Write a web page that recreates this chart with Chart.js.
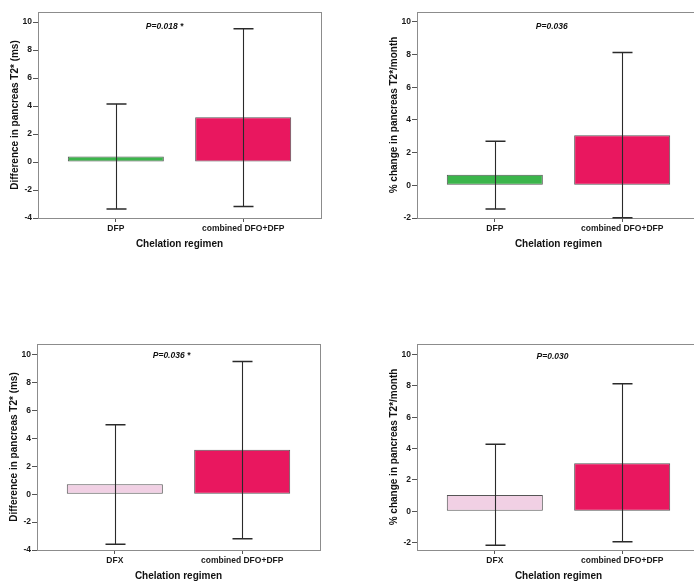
<!DOCTYPE html>
<html>
<head>
<meta charset="utf-8">
<script src="https://cdn.jsdelivr.net/npm/chart.js@4.4.1/dist/chart.umd.min.js"></script>
<style>
  html, body { margin: 0; padding: 0; background: #fff; }
  body { width: 694px; height: 583px; overflow: hidden; position: relative; }
  .panel { position: absolute; width: 347px; height: 260px; }
</style>
</head>
<body>
<div class="panel" style="left:0;top:0"><canvas id="c1" width="347" height="260"></canvas></div>
<div class="panel" style="left:379px;top:0"><canvas id="c2" width="347" height="260"></canvas></div>
<div class="panel" style="left:-1px;top:332px"><canvas id="c3" width="347" height="260"></canvas></div>
<div class="panel" style="left:379px;top:332px"><canvas id="c4" width="347" height="260"></canvas></div>
<script>
// --- data ---
const regimensTop = ['DFP', 'combined DFO+DFP'];
const regimensBottom = ['DFX', 'combined DFO+DFP'];
const xSlots = [1, 2];

// top-left: difference in pancreas T2* (ms), DFP vs combined
const diffDfp = [0.4, 3.2];
const diffDfpLow = [-3.35, -3.18];
const diffDfpHigh = [4.15, 9.53];

// top-right: % change per month, DFP vs combined
const pctDfp = [0.65, 3.07];
const pctDfpLow = [-1.45, -1.98];
const pctDfpHigh = [2.7, 8.13];

// bottom-left: difference (ms), DFX vs combined
const diffDfx = [0.72, 3.18];
const diffDfxLow = [-3.59, -3.2];
const diffDfxHigh = [4.98, 9.52];

// bottom-right: % change per month, DFX vs combined
const pctDfx = [1.04, 3.06];
const pctDfxLow = [-2.17, -1.94];
const pctDfxHigh = [4.28, 8.15];

const ticksDiff = [-4, -2, 0, 2, 4, 6, 8, 10];
const ticksPct = [-2, 0, 2, 4, 6, 8, 10];

const GREEN = '#3bb54b';
const PINK = '#e9175f';
const LIGHT_PINK = '#f1d0e4';
const FONT = '"Liberation Sans", Arial, sans-serif';

// plot frame (SPSS style box round the chart area)
const framePlugin = {
  id: 'frame',
  beforeDatasetsDraw(chart) {
    const { ctx, chartArea: a } = chart;
    ctx.save();
    ctx.strokeStyle = '#8c8c8c';
    ctx.lineWidth = 1;
    ctx.strokeRect(Math.round(a.left) + 0.5, Math.round(a.top) + 0.5,
      Math.round(a.right - a.left), Math.round(a.bottom - a.top));
    ctx.restore();
  }
};

// whiskers with caps, drawn from the y scale
const errorBarPlugin = {
  id: 'errorBars',
  afterDatasetsDraw(chart, args, opts) {
    const { ctx } = chart;
    const yScale = chart.scales.y;
    const meta = chart.getDatasetMeta(0);
    ctx.save();
    ctx.strokeStyle = '#2a2a2a';
    meta.data.forEach((bar, i) => {
      const x = Math.round(bar.x) + 0.5;
      const yLo = yScale.getPixelForValue(opts.lower[i]);
      const yHi = yScale.getPixelForValue(opts.upper[i]);
      ctx.lineWidth = 1.1;
      ctx.beginPath();
      ctx.moveTo(x, yHi);
      ctx.lineTo(x, yLo);
      ctx.stroke();
      ctx.lineWidth = 1.5;
      ctx.beginPath();
      ctx.moveTo(x - opts.cap, yHi);
      ctx.lineTo(x + opts.cap, yHi);
      ctx.moveTo(x - opts.cap, yLo);
      ctx.lineTo(x + opts.cap, yLo);
      ctx.stroke();
    });
    ctx.restore();
  }
};

// p-value note inside the plot
const pNotePlugin = {
  id: 'pNote',
  afterDraw(chart, args, opts) {
    const { ctx, chartArea: a } = chart;
    ctx.save();
    ctx.font = 'italic bold 8.5px ' + FONT;
    ctx.fillStyle = '#111';
    ctx.textAlign = 'left';
    ctx.textBaseline = 'middle';
    ctx.fillText(opts.text, a.left + opts.fx * (a.right - a.left), a.top + opts.dy);
    ctx.restore();
  }
};

function makeChart(id, cats, means, low, high, colors, yMin, yMax, yTicks, yTitle, note) {
  const ctx = document.getElementById(id).getContext('2d');
  return new Chart(ctx, {
    type: 'bar',
    data: {
      datasets: [{
        data: xSlots.map((x, i) => ({ x: x, y: means[i] })),
        backgroundColor: colors,
        borderColor: '#555',
        borderWidth: 1,
        borderSkipped: false,
        barPercentage: 0.754,
        categoryPercentage: 1
      }]
    },
    options: {
      responsive: false,
      animation: false,
      layout: { padding: { top: 12, right: 26, left: 0, bottom: 0 } },
      plugins: {
        legend: { display: false },
        tooltip: { enabled: false },
        errorBars: { lower: low, upper: high, cap: 10 },
        pNote: note
      },
      scales: {
        x: {
          type: 'linear',
          min: 0.389,
          max: 2.611,
          offset: false,
          afterBuildTicks: s => { s.ticks = xSlots.map(v => ({ value: v })); },
          afterFit: s => { s.height = 42; },
          grid: { offset: false, drawOnChartArea: false, tickLength: 4, color: '#555' },
          border: { display: false },
          ticks: {
            padding: 2,
            color: '#1a1a1a',
            font: { family: FONT, size: 8.5, weight: 'bold' },
            callback: (v) => cats[xSlots.indexOf(v)]
          },
          title: {
            display: true,
            text: 'Chelation regimen',
            color: '#111',
            font: { family: FONT, size: 10, weight: 'bold' },
            padding: { top: 0, bottom: 10 }
          }
        },
        y: {
          min: yMin,
          max: yMax,
          afterBuildTicks: s => { s.ticks = yTicks.map(v => ({ value: v })); },
          afterFit: s => { s.width = 38; },
          grid: { drawOnChartArea: false, tickLength: 5, color: '#555' },
          border: { display: false },
          ticks: {
            padding: 1,
            color: '#1a1a1a',
            font: { family: FONT, size: 8.5, weight: 'bold' }
          },
          title: {
            display: true,
            text: yTitle,
            color: '#111',
            font: { family: FONT, size: 10, weight: 'bold' },
            padding: { top: 9, bottom: 0 }
          }
        }
      }
    },
    plugins: [framePlugin, errorBarPlugin, pNotePlugin]
  });
}

makeChart('c1', regimensTop, diffDfp, diffDfpLow, diffDfpHigh, [GREEN, PINK],
  -4, 10.72, ticksDiff, 'Difference in pancreas T2* (ms)',
  { text: 'P=0.018 *', fx: 0.381, dy: 14.4 });

makeChart('c2', regimensTop, pctDfp, pctDfpLow, pctDfpHigh, [GREEN, PINK],
  -2, 10.61, ticksPct, '% change in pancreas T2*/month',
  { text: 'P=0.036', fx: 0.42, dy: 14.7 });

makeChart('c3', regimensBottom, diffDfx, diffDfxLow, diffDfxHigh, [LIGHT_PINK, PINK],
  -4, 10.77, ticksDiff, 'Difference in pancreas T2* (ms)',
  { text: 'P=0.036 *', fx: 0.409, dy: 11.4 });

makeChart('c4', regimensBottom, pctDfx, pctDfxLow, pctDfxHigh, [LIGHT_PINK, PINK],
  -2.47, 10.68, ticksPct, '% change in pancreas T2*/month',
  { text: 'P=0.030', fx: 0.4225, dy: 12.4 });
</script>
</body>
</html>
